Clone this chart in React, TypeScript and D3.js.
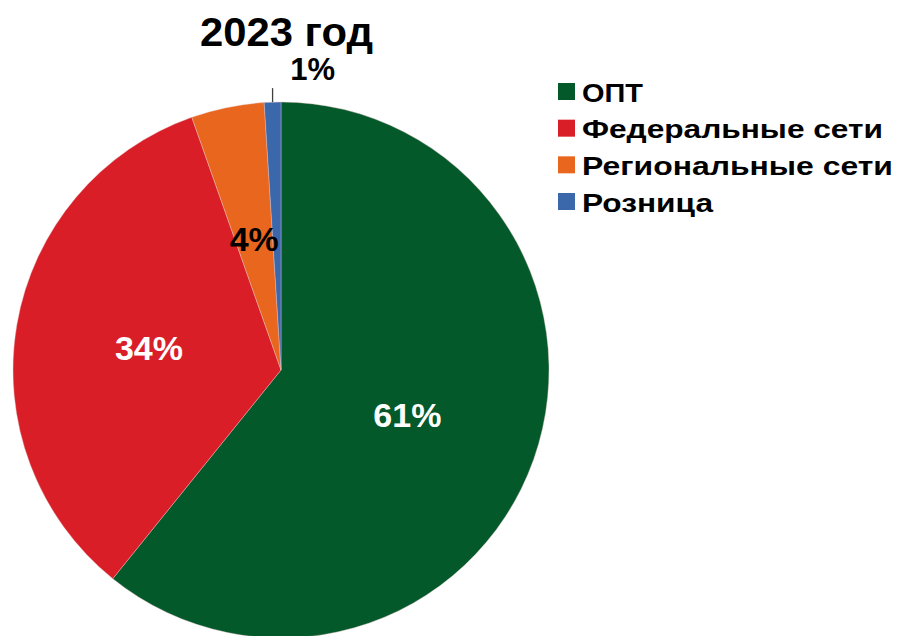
import React from "react";
import * as d3 from "d3";

const categories = ["ОПТ", "Федеральные сети", "Региональные сети", "Розница"];
const values = [60.8, 33.8, 4.4, 1.0];
const labels = ["61%", "34%", "4%", "1%"];
const colors = ["#04592b", "#d91e27", "#e9661e", "#3a68ab"];
const labelColors = ["#ffffff", "#ffffff", "#000000", "#000000"];
const legendWidths = [61, 301, 311, 131];
const title = "2023 год";

const W = 897;
const H = 636;
const cx = 281;
const cy = 370;
const R = 268;

export default function App() {
  const pie = d3.pie<number>().sort(null).value((d) => d)(values);
  const arc = d3.arc<d3.PieArcDatum<number>>().innerRadius(0).outerRadius(R);
  const labelArc = d3.arc<d3.PieArcDatum<number>>().innerRadius(R * 0.5).outerRadius(R * 0.5);
  const font = "'Liberation Sans', Arial, sans-serif";
  const legendY = d3.scaleLinear().domain([0, 3]).range([92, 202]);

  return (
    <svg width={W} height={H} style={{ position: "absolute", left: 0, top: 0 }} fontFamily={font}>
      <rect width={W} height={H} fill="#ffffff" />
      <text x={286.5} y={46} textAnchor="middle" fontSize={41.5} fontWeight="bold" fill="#000" textLength={173} lengthAdjust="spacingAndGlyphs">
        {title}
      </text>
      <g transform={`translate(${cx},${cy})`}>
        {pie.map((p, i) => (
          <path key={i} d={arc(p) || ""} fill={colors[i]} stroke="#e8c8c8" strokeWidth={0.4} />
        ))}
        {pie.map((p, i) => {
          if (i === 3) {
            const mid = (p.startAngle + p.endAngle) / 2;
            const x0 = R * Math.sin(mid);
            const y0 = -R * Math.cos(mid);
            const y1 = y0 - 14;
            return (
              <g key={i}>
                <line x1={x0} y1={y0} x2={x0} y2={y1} stroke="#404040" strokeWidth={1.3} />
                <text x={x0 + 40} y={y1 - 8} textAnchor="middle" fontSize={31} fontWeight="bold" fill={labelColors[i]}>
                  {labels[i]}
                </text>
              </g>
            );
          }
          const [lx, ly] = labelArc.centroid(p);
          return (
            <text key={i} x={lx} y={ly} dy="0.36em" textAnchor="middle" fontSize={34} fontWeight="bold" fill={labelColors[i]}>
              {labels[i]}
            </text>
          );
        })}
      </g>
      <g>
        {categories.map((c, i) => (
          <g key={c} transform={`translate(558,${legendY(i)})`}>
            <rect x={0} y={-9} width={17} height={17} fill={colors[i]} />
            <text x={24} y={0} dy="0.36em" fontSize={26.5} fontWeight="bold" fill="#000" textLength={legendWidths[i]} lengthAdjust="spacingAndGlyphs">
              {c}
            </text>
          </g>
        ))}
      </g>
    </svg>
  );
}
